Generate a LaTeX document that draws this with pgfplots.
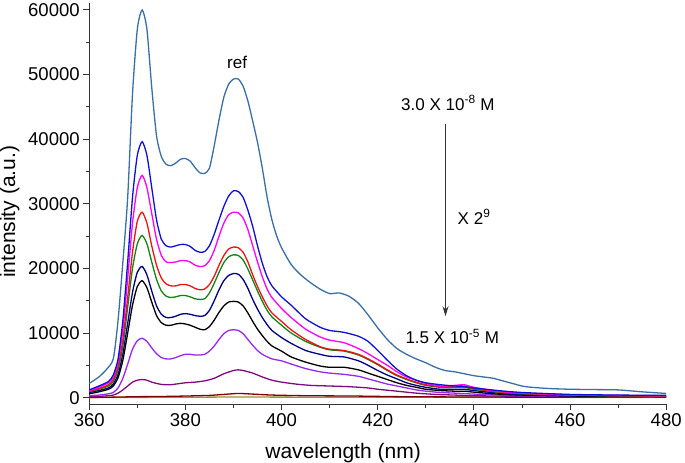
\documentclass[border=0pt]{standalone}
\usepackage{fontspec}
\setmainfont{Liberation Sans}
\usepackage{pgfplots}
\pgfplotsset{compat=1.18}
\usetikzlibrary{arrows.meta}
\definecolor{c1}{RGB}{58,110,165}
\definecolor{c2}{RGB}{15,15,215}
\definecolor{c3}{RGB}{255,0,255}
\definecolor{c4}{RGB}{235,20,20}
\definecolor{c5}{RGB}{20,130,20}
\definecolor{c6}{RGB}{0,0,128}
\definecolor{c7}{RGB}{0,0,0}
\definecolor{c8}{RGB}{150,40,240}
\definecolor{c9}{RGB}{128,10,128}
\definecolor{c10}{RGB}{128,0,0}
\definecolor{c11}{RGB}{165,140,45}
\begin{document}
\begin{tikzpicture}
\begin{axis}[
  width=576pt, height=400pt, scale only axis,
  xmin=360, xmax=480, ymin=-1000, ymax=61000,
  axis x line*=bottom, axis y line*=left,
  axis line style={line width=0.9pt, black!80},
  xtick={360,380,...,480}, ytick={0,10000,...,60000},
  minor x tick num=1, minor y tick num=1,
  tick align=outside,
  major tick length=6pt, minor tick length=3.5pt,
  tick style={line width=0.9pt, black!80},
  scaled y ticks=false,
  /pgf/number format/assume math mode=true,
  /pgf/number format/1000 sep={},
  tick label style={font=\fontsize{18.5}{21}\selectfont},
  xlabel={wavelength (nm)}, ylabel={intensity (a.u.)},
  label style={font=\fontsize{21}{25}\selectfont, inner sep=0pt},
  xlabel style={at={(axis description cs:0.44,-0.0975)}, anchor=north},
  ylabel style={at={(axis description cs:-0.155,0.48)}, anchor=north},
  every axis plot/.append style={line width=1.3pt, smooth, tension=0.4, no marks},
  clip=false,
]
% olive baseline
\addplot[c11] coordinates {(360,0) (370,40) (380,60) (391,100) (400,80) (420,60) (450,40) (480,30)};
% dark red
\addplot[c10] coordinates {(360,50) (365,80) (370,150) (375,180) (380,250) (385,350) (388,500) (391,650) (394,550) (398,400) (405,300) (415,250) (425,150) (440,100) (460,60) (480,50)};
% plum
\addplot[c9] coordinates {(360,150) (362,200) (364,300) (365,400) (366,700) (367,1200) (368,1800) (369,2400) (370,2700) (371,2800) (372,2700) (373,2400) (374,2200) (375,2050) (376,2000) (377,2000) (378,2100) (380,2300) (382,2400) (384,2600) (386,3000) (388,3700) (390,4200) (391,4300) (392,4200) (394,3800) (396,3200) (398,2700) (400,2400) (403,2100) (406,1900) (410,1800) (414,1700) (418,1500) (420,1300) (424,1000) (428,700) (432,500) (436,400) (440,300) (450,200) (460,150) (480,100)};
% violet
\addplot[c8] coordinates {(360,300) (362,400) (364,600) (365,800) (366,1500) (367,3000) (368,5200) (369,7500) (370,8800) (371,9200) (372,8700) (373,7700) (374,6800) (375,6200) (376,6000) (377,6000) (378,6200) (379,6500) (380,6700) (381,6700) (382,6600) (383,6600) (384,6700) (385,7200) (386,8000) (387,9000) (388,9900) (389,10400) (390,10500) (391,10400) (392,9900) (393,9000) (394,8100) (395,7300) (396,6700) (398,6000) (400,5700) (402,5200) (405,4500) (408,4000) (410,3800) (413,3600) (416,3300) (418,2900) (420,2500) (422,2100) (424,1800) (426,1500) (428,1200) (430,1000) (433,800) (436,700) (440,550) (445,400) (450,300) (460,200) (470,150) (480,100)};
% black
\addplot[c7] coordinates {(360,600) (362,900) (364,1300) (365,1800) (366,3100) (367,5800) (368,10000) (369,14300) (370,17200) (371,18100) (372,17000) (373,14800) (374,12700) (375,11600) (376,11200) (377,11200) (378,11400) (379,11500) (380,11400) (381,11200) (382,10900) (383,10600) (384,10500) (385,11000) (386,12000) (387,13200) (388,14200) (389,14800) (390,14900) (391,14800) (392,14200) (393,13100) (394,11800) (395,10600) (396,9600) (397,8700) (398,8000) (400,7200) (402,6300) (405,5500) (408,4900) (410,4700) (413,4700) (416,4300) (418,3800) (420,3300) (422,2800) (424,2300) (426,1900) (428,1600) (430,1300) (433,1100) (436,1000) (438,1000) (440,850) (445,550) (450,400) (460,250) (470,200) (480,150)};
% navy
\addplot[c6] coordinates {(360,800) (362,1100) (364,1500) (365,2100) (366,3600) (367,6800) (368,11500) (369,16300) (370,19400) (371,20300) (372,19000) (373,16500) (374,14200) (375,12900) (376,12400) (377,12400) (378,12600) (379,12900) (380,13000) (381,12900) (382,12700) (383,12600) (384,12700) (385,13500) (386,15000) (387,16700) (388,18100) (389,18900) (390,19200) (391,19100) (392,18300) (393,16900) (394,15200) (395,13700) (396,12400) (397,11300) (398,10400) (400,9300) (402,8400) (405,7300) (408,6700) (410,6400) (413,6300) (416,5700) (418,5000) (420,4200) (422,3500) (424,2900) (426,2300) (428,1900) (430,1600) (433,1300) (436,1300) (438,1300) (440,1100) (445,700) (450,500) (460,320) (470,250) (480,200)};
% green
\addplot[c5] coordinates {(360,900) (362,1300) (364,1800) (365,2500) (366,4300) (367,8000) (368,14000) (369,20000) (370,23800) (371,25100) (372,23800) (373,21000) (374,18300) (375,16500) (376,15700) (377,15500) (378,15600) (379,15800) (380,15800) (381,15600) (382,15300) (383,15200) (384,15300) (385,16200) (386,17700) (387,19400) (388,20900) (389,21800) (390,22100) (391,22000) (392,21300) (393,19900) (394,18200) (395,16500) (396,14900) (397,13500) (398,12500) (400,11200) (402,10000) (405,8700) (408,7800) (410,7400) (413,7200) (416,6600) (418,5900) (420,5100) (422,4200) (424,3400) (426,2800) (428,2300) (430,1900) (433,1600) (436,1600) (438,1600) (440,1300) (445,850) (450,600) (460,380) (470,280) (480,230)};
% red
\addplot[c4] coordinates {(360,1000) (362,1400) (364,2000) (365,2800) (366,4800) (367,9000) (368,15500) (369,22500) (370,27300) (371,28700) (372,27000) (373,23500) (374,20500) (375,18500) (376,17600) (377,17300) (378,17300) (379,17500) (380,17500) (381,17300) (382,16900) (383,16700) (384,16800) (385,17500) (386,18800) (387,20500) (388,22000) (389,23000) (390,23300) (391,23200) (392,22500) (393,21000) (394,19000) (395,17200) (396,15600) (397,14200) (398,13100) (400,11800) (402,10500) (405,9000) (408,7900) (410,7500) (413,7300) (416,6700) (418,6000) (420,5200) (422,4300) (424,3500) (426,2900) (428,2400) (430,2000) (433,1700) (436,1800) (438,1800) (440,1400) (445,900) (450,650) (460,400) (470,300) (480,250)};
% magenta
\addplot[c3] coordinates {(360,1100) (362,1600) (364,2300) (365,3200) (366,5500) (367,10500) (368,18500) (369,27000) (370,32500) (371,34400) (372,32500) (373,28500) (374,24500) (375,22000) (376,21000) (377,20900) (378,21000) (379,21200) (380,21200) (381,21000) (382,20500) (383,20300) (384,20400) (385,21200) (386,22800) (387,25000) (388,27000) (389,28300) (390,28700) (391,28600) (392,27800) (393,26000) (394,23500) (395,21000) (396,18700) (397,16800) (398,15500) (400,13800) (402,12400) (405,10600) (408,9400) (410,8900) (413,8500) (416,7600) (418,6800) (420,5900) (422,5000) (424,4000) (426,3200) (428,2700) (430,2200) (433,1800) (436,1900) (438,2000) (440,1600) (445,1000) (450,700) (460,450) (470,350) (480,300)};
% blue
\addplot[c2] coordinates {(360,1200) (362,1800) (364,2500) (365,3500) (366,6000) (367,12000) (368,21000) (369,31000) (370,37500) (371,39600) (372,37500) (373,32500) (374,27500) (375,24500) (376,23500) (377,23300) (378,23500) (379,23700) (380,23700) (381,23400) (382,22800) (383,22500) (384,22600) (385,23500) (386,25300) (387,27500) (388,29600) (389,31200) (390,32000) (391,31900) (392,31000) (393,29000) (394,26500) (395,23500) (396,20800) (397,18700) (398,17300) (400,15600) (402,14300) (405,12200) (408,10900) (410,10400) (413,10100) (416,9500) (418,8700) (420,7300) (422,5800) (424,4400) (426,3400) (428,2700) (430,2300) (433,2000) (436,1800) (438,1700) (440,1500) (445,1100) (450,800) (460,500) (470,400) (480,350)};
% steel blue (reference)
\addplot[c1] coordinates {(360,2200) (362,3200) (363.5,4300) (365,6000) (366,12000) (367,21000) (368,31000) (369,47000) (370,57000) (371,60000) (372,57000) (373,48000) (374,40500) (375,37300) (376,36100) (377,35900) (378,36300) (379,36900) (380,37000) (381,36600) (382,35600) (383,34800) (384,34700) (385,35500) (386,39000) (387,43000) (388,46500) (389,48500) (390,49300) (391,49300) (392,48200) (393,45900) (394,42800) (395,39500) (396,35500) (397,31000) (398,27500) (399,25000) (400,23200) (402,20600) (404,19000) (406,17800) (408,16800) (410,16100) (412,16200) (414,15700) (416,14600) (418,12800) (420,10800) (422,9000) (424,7600) (426,6700) (428,6000) (430,5400) (432,4700) (434,4200) (436,4000) (438,3700) (440,3400) (442,3200) (444,3000) (446,2600) (448,2200) (450,1800) (452,1600) (456,1400) (460,1300) (465,1250) (470,1200) (475,900) (480,650)};
% annotations
\node[font=\fontsize{17}{20}\selectfont] at (axis cs:390.75,51900) {ref};
\node[font=\fontsize{17}{20}\selectfont] at (axis cs:434.6,45600) {3.0 X 10\textsuperscript{-8} M};
\node[font=\fontsize{17}{20}\selectfont, anchor=west] at (axis cs:435.9,28000) {X 2\textsuperscript{9}};
\node[font=\fontsize{17}{20}\selectfont] at (axis cs:435.5,9500) {1.5 X 10\textsuperscript{-5} M};
\draw[line width=0.9pt, black!80, -{Stealth[length=10pt,width=6pt]}] (axis cs:434.1,42300) -- (axis cs:434.1,12600);
\end{axis}
\end{tikzpicture}
\end{document}
